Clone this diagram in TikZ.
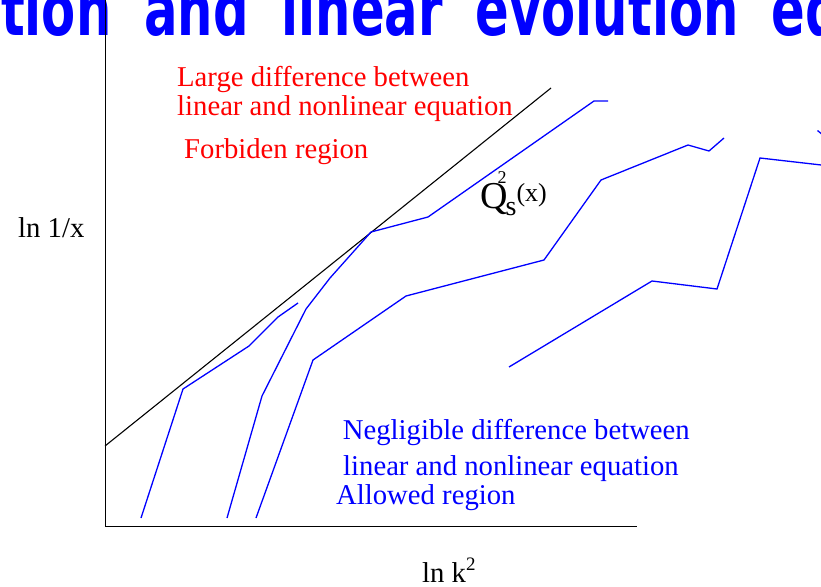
\documentclass[tikz,border=0pt]{standalone}
\usepackage{fontspec}
\setmainfont{Liberation Serif}
\newfontfamily\titlefont[WordSpace=1.9,FakeStretch=0.69]{DejaVu Sans Bold}
\usepackage{tikz}
\usetikzlibrary{positioning}
\definecolor{curveblue}{RGB}{0,0,255}
\definecolor{labelred}{RGB}{255,0,0}
\tikzset{
  txt/.style={anchor=base west, inner sep=0pt, font=\fontsize{28.7}{29}\selectfont},
  curve/.style={draw=curveblue, line width=1.3pt, line join=miter},
}

\begin{document}
\begin{tikzpicture}[x=1pt, y=-1pt]
  \useasboundingbox (0,0) rectangle (821,586);
  % title, cut by the page edge
  \node[anchor=base west, inner sep=0pt, text=curveblue, font=\titlefont\fontsize{72}{72}\selectfont] (title) at (1,35.5) {tion and linear evolution equation};
  % axes
  \draw[line width=1pt] (105,0) -- (105,526) -- (637,526);
  \draw[line width=1.1pt] (105,446) -- (551,88);
  % evolution curves
  \draw[curve] (141,518) -- (183,389) -- (249,346) -- (278,317) -- (298,303);
  \draw[curve] (227,518) -- (262,396) -- (306,309) -- (330,278) -- (371,232) -- (428,217) -- (594,101) -- (608,101);
  \draw[curve] (256,518) -- (313,360) -- (406,296) -- (544,260) -- (601,180) -- (688,145) -- (709,151) -- (724,138);
  \draw[curve] (509,367) -- (652,281) -- (717,289) -- (760,158) -- (830,166);
  \draw[curve] (817.5,130.5) -- (830,141);
  % labels
  \node[txt, text=labelred] (large) at (177,86.7) {Large difference between};
  \node[txt, text=labelred] (largeb) at (177,115) {linear and nonlinear equation};
  \node[txt, text=labelred] (forbid) at (184,158.3) {Forbiden region};
  \node[txt, text=curveblue] (neglig) at (342.7,439.3) {Negligible difference between};
  \node[txt, text=curveblue] (negligb) at (343,475) {linear and nonlinear equation};
  \node[txt, text=curveblue] (allow) at (336,504.3) {Allowed region};
  \node[txt] (yaxis) at (18,237) {ln 1/x};
  \node[txt] (xaxis) at (422,582) {ln k\raisebox{12pt}{\fontsize{19}{19}\selectfont 2}};
  \node[anchor=base west, inner sep=0pt] (qs) at (480,208) {\fontsize{38}{38}\selectfont Q\kern-10pt\raisebox{25pt}{\fontsize{18}{18}\selectfont 2}\kern-1pt\raisebox{-7pt}{\fontsize{28}{28}\selectfont s}\raisebox{6.5pt}{\fontsize{26}{26}\selectfont (x)}};
\end{tikzpicture}
\end{document}
